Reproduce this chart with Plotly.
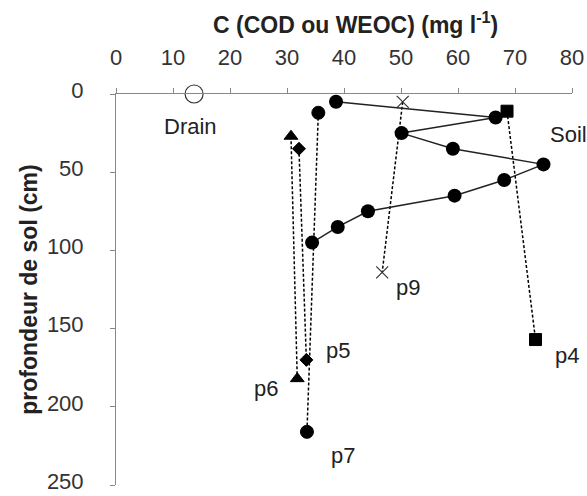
import plotly.graph_objects as go

# ---- data ----
soil_c = [38.6, 66.6, 50.1, 59.1, 75.0, 68.1, 59.4, 44.2, 38.9, 34.4]
soil_depth = [5, 15, 25, 35, 45, 55, 65, 75, 85, 95]
drain_c = [13.7]
drain_depth = [0]
p4_c = [68.6, 73.6]
p4_depth = [11, 157]
p5_c = [32.1, 33.4]
p5_depth = [35, 170]
p6_c = [30.7, 31.8]
p6_depth = [27, 182]
p7_c = [35.5, 33.5]
p7_depth = [12, 216]
p9_c = [50.3, 46.7]
p9_depth = [5, 114]

x_ticks = [0, 10, 20, 30, 40, 50, 60, 70, 80]
y_ticks = [0, 50, 100, 150, 200, 250]

DASH = "3px,2px"
FONT = "Liberation Sans, Arial, sans-serif"
fig = go.Figure()

def dashed(x, y, symbol, size, name):
    fig.add_trace(go.Scatter(
        x=x, y=y, mode="lines+markers", name=name,
        line=dict(color="black", width=1.5, dash=DASH),
        marker=dict(symbol=symbol, size=size, color="black",
                    line=dict(color="black", width=1))))

dashed(p7_c, p7_depth, "circle", 13, "p7")
dashed(p6_c, p6_depth, "triangle-up", 12, "p6")
dashed(p5_c, p5_depth, "diamond", 10, "p5")
dashed(p4_c, p4_depth, "square", 12, "p4")
fig.add_trace(go.Scatter(
    x=p9_c, y=p9_depth, mode="lines+markers", name="p9",
    line=dict(color="black", width=1.5, dash=DASH),
    marker=dict(symbol="x-thin", size=12, color="black",
                line=dict(color="#333", width=1.2))))
fig.add_trace(go.Scatter(
    x=soil_c, y=soil_depth, mode="lines+markers", name="Soil",
    line=dict(color="#222", width=1.5),
    marker=dict(symbol="circle", size=14, color="black")))
fig.add_trace(go.Scatter(
    x=drain_c, y=drain_depth, mode="markers", name="Drain",
    marker=dict(symbol="circle", size=18, color="white",
                line=dict(color="#333", width=1.2)),
    cliponaxis=False))

labels = [("Drain", 13.1, 20.5), ("Soil", 79.4, 26), ("p9", 51.2, 124),
          ("p4", 79.2, 167), ("p5", 38.9, 164), ("p6", 26.3, 188),
          ("p7", 39.9, 231)]
for t, x, y in labels:
    fig.add_annotation(x=x, y=y, text=t, showarrow=False,
                       font=dict(family=FONT, size=22, color="#222"))

fig.add_annotation(xref="paper", yref="paper", x=(356 - 116) / 456.5, y=1.0,
                   yshift=71, yanchor="middle",
                   text="<b>C (COD ou WEOC) (mg l<sup>-1</sup>)</b>", showarrow=False,
                   font=dict(family=FONT, size=23, color="#222"))

tickfont = dict(family=FONT, size=22, color="#333")
fig.update_layout(
    width=587, height=496,
    margin=dict(l=116, r=14.5, t=94, b=10.5),
    paper_bgcolor="white", plot_bgcolor="white",
    showlegend=False,
    xaxis=dict(side="top", range=[0, 80], tickvals=x_ticks, showgrid=False,
               zeroline=False, showline=True, linecolor="#888", linewidth=1,
               ticks="outside", ticklen=5, tickcolor="#888", automargin=False,
               tickfont=tickfont, ticklabelstandoff=14, ticklabeloverflow="allow"),
    yaxis=dict(range=[250, 0], tickvals=y_ticks, showgrid=False,
               zeroline=False, showline=True, linecolor="#888", linewidth=1,
               ticks="outside", ticklen=5, tickcolor="#888", automargin=False,
               tickfont=tickfont, ticklabelstandoff=22, ticklabeloverflow="allow",
               ticklabelshift=4,
               title=dict(text="<b>profondeur de sol (cm)</b>", standoff=2,
                          font=dict(family=FONT, size=23, color="#222"))),
)
fig.write_html("out.html", config={"displayModeBar": False},
               post_script="document.body.style.margin='0';document.body.style.padding='0';")
